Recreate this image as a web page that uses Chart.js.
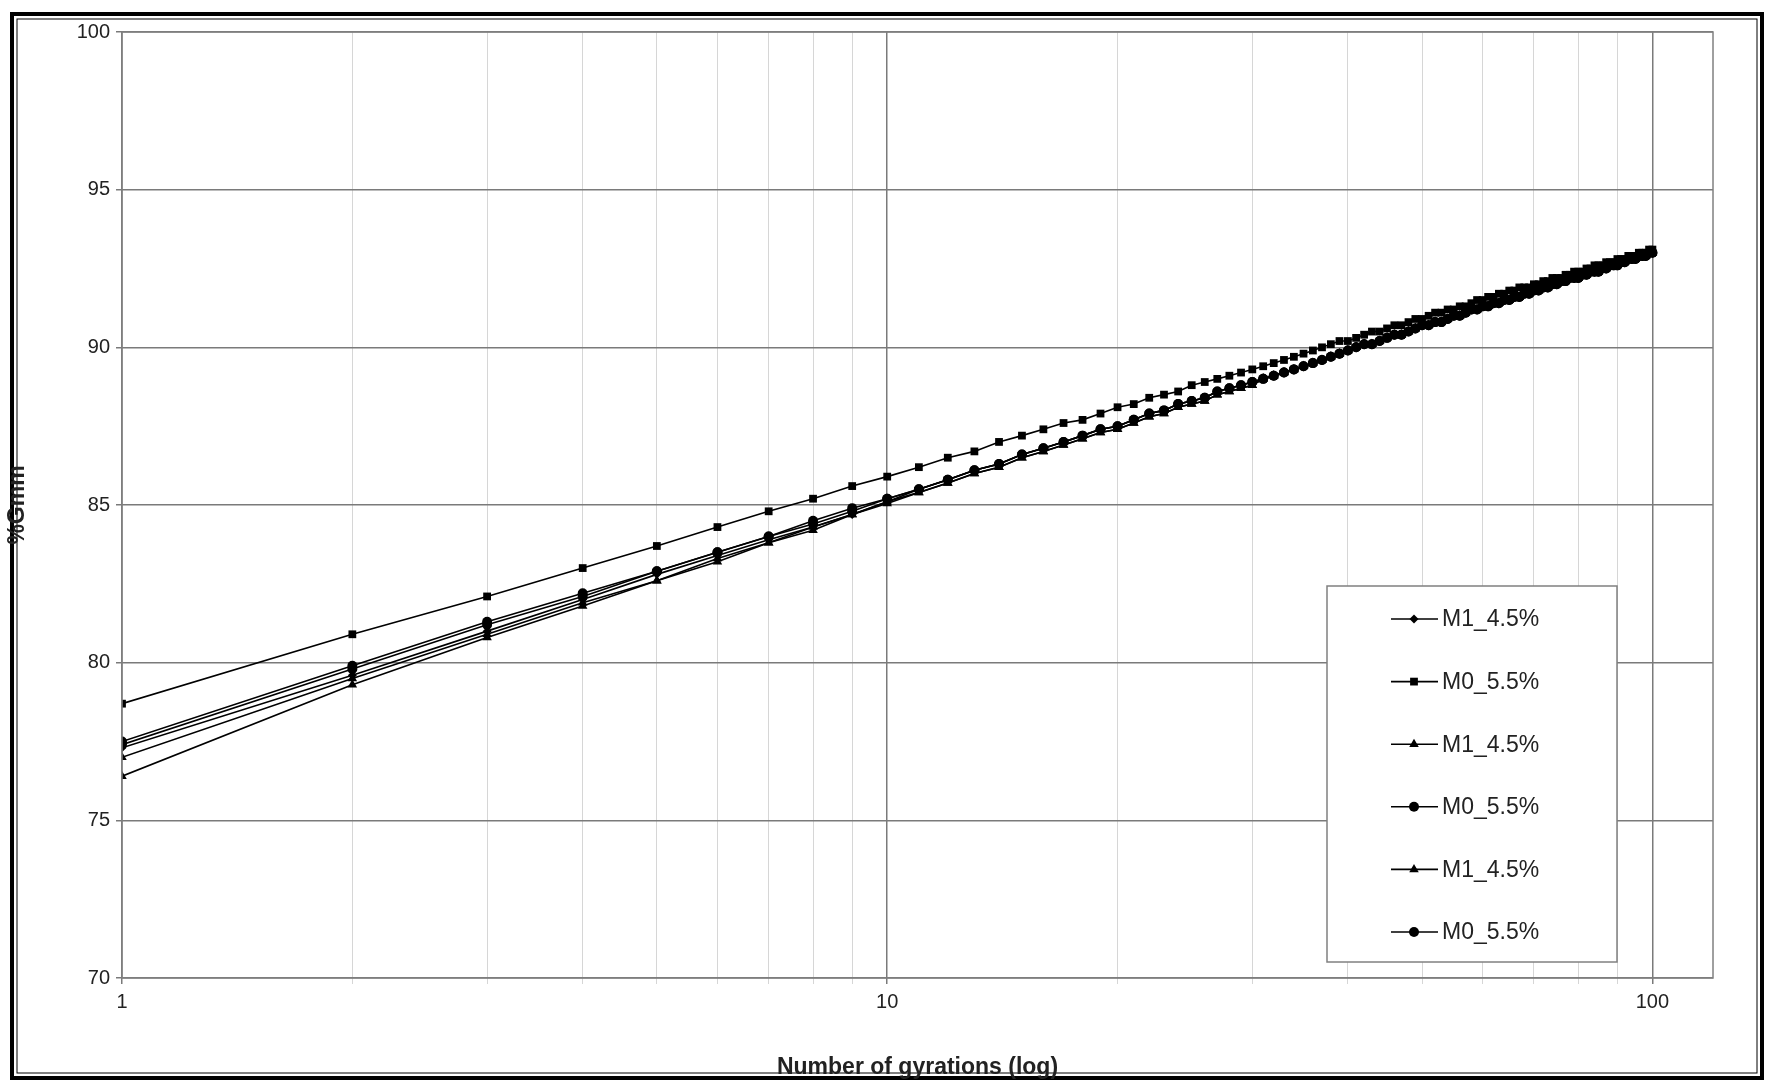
<!DOCTYPE html>
<html>
<head>
<meta charset="utf-8">
<script src="https://cdn.jsdelivr.net/npm/chart.js@4.4.0/dist/chart.umd.min.js"></script>
<style>
  html, body { margin: 0; padding: 0; background: #fff; }
  #wrap { width: 1771px; height: 1085px; position: relative; }
</style>
</head>
<body>
<div id="wrap"><canvas id="c" width="1771" height="1085"></canvas></div>
<script>
// gyrations 1..100
const gyrations = [
  1,2,3,4,5,6,7,8,9,10,11,12,13,14,15,16,17,18,19,20,
  21,22,23,24,25,26,27,28,29,30,31,32,33,34,35,36,37,38,39,40,
  41,42,43,44,45,46,47,48,49,50,51,52,53,54,55,56,57,58,59,60,
  61,62,63,64,65,66,67,68,69,70,71,72,73,74,75,76,77,78,79,80,
  81,82,83,84,85,86,87,88,89,90,91,92,93,94,95,96,97,98,99,100
];

const m1Diamond = [
  77.3,79.6,81.0,82.0,82.8,83.4,83.9,84.3,84.7,85.1,85.5,85.8,86.1,86.3,86.6,86.8,87.0,87.2,87.4,87.5,
  87.7,87.9,88.0,88.2,88.3,88.4,88.6,88.7,88.8,88.9,89.0,89.1,89.2,89.3,89.4,89.5,89.6,89.7,89.8,89.9,
  90.0,90.1,90.1,90.2,90.3,90.4,90.4,90.5,90.6,90.7,90.7,90.8,90.8,90.9,91.0,91.0,91.1,91.2,91.2,91.3,
  91.3,91.4,91.4,91.5,91.5,91.6,91.6,91.7,91.7,91.8,91.8,91.9,91.9,92.0,92.0,92.1,92.1,92.2,92.2,92.2,
  92.3,92.3,92.4,92.4,92.4,92.5,92.5,92.6,92.6,92.6,92.7,92.7,92.8,92.8,92.8,92.9,92.9,92.9,93.0,93.0
];
const m0Square = [
  78.7,80.9,82.1,83.0,83.7,84.3,84.8,85.2,85.6,85.9,86.2,86.5,86.7,87.0,87.2,87.4,87.6,87.7,87.9,88.1,
  88.2,88.4,88.5,88.6,88.8,88.9,89.0,89.1,89.2,89.3,89.4,89.5,89.6,89.7,89.8,89.9,90.0,90.1,90.2,90.2,
  90.3,90.4,90.5,90.5,90.6,90.7,90.7,90.8,90.9,90.9,91.0,91.1,91.1,91.2,91.2,91.3,91.3,91.4,91.5,91.5,
  91.6,91.6,91.7,91.7,91.8,91.8,91.9,91.9,91.9,92.0,92.0,92.1,92.1,92.2,92.2,92.2,92.3,92.3,92.4,92.4,
  92.4,92.5,92.5,92.6,92.6,92.6,92.7,92.7,92.7,92.8,92.8,92.8,92.9,92.9,92.9,93.0,93.0,93.0,93.1,93.1
];
const m1TriangleA = [
  77.0,79.5,80.9,81.9,82.6,83.3,83.8,84.3,84.7,85.1,85.4,85.7,86.0,86.2,86.5,86.7,86.9,87.1,87.3,87.4,
  87.6,87.8,87.9,88.1,88.2,88.3,88.5,88.6,88.7,88.8,89.0,89.1,89.2,89.3,89.4,89.5,89.6,89.7,89.8,89.9,
  90.0,90.1,90.1,90.2,90.3,90.4,90.4,90.5,90.6,90.7,90.7,90.8,90.8,90.9,91.0,91.0,91.1,91.2,91.2,91.3,
  91.3,91.4,91.4,91.5,91.5,91.6,91.6,91.7,91.7,91.8,91.8,91.9,91.9,92.0,92.0,92.1,92.1,92.2,92.2,92.2,
  92.3,92.3,92.4,92.4,92.4,92.5,92.5,92.6,92.6,92.6,92.7,92.7,92.8,92.8,92.8,92.9,92.9,92.9,93.0,93.0
];
const m0CircleA = [
  77.4,79.8,81.2,82.1,82.9,83.5,84.0,84.4,84.8,85.2,85.5,85.8,86.1,86.3,86.6,86.8,87.0,87.2,87.4,87.5,
  87.7,87.9,88.0,88.2,88.3,88.4,88.6,88.7,88.8,88.9,89.0,89.1,89.2,89.3,89.4,89.5,89.6,89.7,89.8,89.9,
  90.0,90.1,90.1,90.2,90.3,90.4,90.4,90.5,90.6,90.7,90.7,90.8,90.8,90.9,91.0,91.0,91.1,91.2,91.2,91.3,
  91.3,91.4,91.4,91.5,91.5,91.6,91.6,91.7,91.7,91.8,91.8,91.9,91.9,92.0,92.0,92.1,92.1,92.2,92.2,92.2,
  92.3,92.3,92.4,92.4,92.4,92.5,92.5,92.6,92.6,92.6,92.7,92.7,92.8,92.8,92.8,92.9,92.9,92.9,93.0,93.0
];
const m1TriangleB = [
  76.4,79.3,80.8,81.8,82.6,83.2,83.8,84.2,84.7,85.05,85.4,85.7,86.0,86.2,86.5,86.7,86.9,87.1,87.3,87.4,
  87.6,87.8,87.9,88.1,88.2,88.3,88.5,88.6,88.7,88.8,89.0,89.1,89.2,89.3,89.4,89.5,89.6,89.7,89.8,89.9,
  90.0,90.1,90.1,90.2,90.3,90.4,90.4,90.5,90.6,90.7,90.7,90.8,90.8,90.9,91.0,91.0,91.1,91.2,91.2,91.3,
  91.3,91.4,91.4,91.5,91.5,91.6,91.6,91.7,91.7,91.8,91.8,91.9,91.9,92.0,92.0,92.1,92.1,92.2,92.2,92.2,
  92.3,92.3,92.4,92.4,92.4,92.5,92.5,92.6,92.6,92.6,92.7,92.7,92.8,92.8,92.8,92.9,92.9,92.9,93.0,93.0
];
const m0CircleB = [
  77.5,79.9,81.3,82.2,82.9,83.5,84.0,84.5,84.9,85.2,85.5,85.8,86.1,86.3,86.6,86.8,87.0,87.2,87.4,87.5,
  87.7,87.9,88.0,88.2,88.3,88.4,88.6,88.7,88.8,88.9,89.0,89.1,89.2,89.3,89.4,89.5,89.6,89.7,89.8,89.9,
  90.0,90.1,90.1,90.2,90.3,90.4,90.4,90.5,90.6,90.7,90.7,90.8,90.8,90.9,91.0,91.0,91.1,91.2,91.2,91.3,
  91.3,91.4,91.4,91.5,91.5,91.6,91.6,91.7,91.7,91.8,91.8,91.9,91.9,92.0,92.0,92.1,92.1,92.2,92.2,92.2,
  92.3,92.3,92.4,92.4,92.4,92.5,92.5,92.6,92.6,92.6,92.7,92.7,92.8,92.8,92.8,92.9,92.9,92.9,93.0,93.0
];

const seriesNames = ['M1_4.5%', 'M0_5.5%', 'M1_4.5%', 'M0_5.5%', 'M1_4.5%', 'M0_5.5%'];
const seriesValues = [m1Diamond, m0Square, m1TriangleA, m0CircleA, m1TriangleB, m0CircleB];
const markers = [
  { style: 'rectRot', r: 4.5 },
  { style: 'rect', r: 5.5 },
  { style: 'triangle', r: 5.5 },
  { style: 'circle', r: 5 },
  { style: 'triangle', r: 5.5 },
  { style: 'circle', r: 5 }
];
const yTicks = [70, 75, 80, 85, 90, 95, 100];
const xLabels = [1, 10, 100];

const FONT = '"Liberation Sans", Arial, sans-serif';
const isMajor = v => xLabels.includes(v);

const datasets = seriesValues.map((vals, i) => ({
  label: seriesNames[i],
  data: vals.map((y, k) => ({ x: gyrations[k], y })),
  borderColor: '#000',
  backgroundColor: '#000',
  borderWidth: 1.6,
  pointStyle: markers[i].style,
  pointRadius: markers[i].r,
  pointBorderWidth: 0,
  tension: 0
}));

// white page and the black double frame
const framePlugin = {
  id: 'frame',
  beforeDraw(chart) {
    const ctx = chart.ctx;
    ctx.save();
    ctx.fillStyle = '#fff';
    ctx.fillRect(0, 0, chart.width, chart.height);
    ctx.strokeStyle = '#000';
    ctx.lineWidth = 4;
    ctx.strokeRect(12, 14, 1750, 1064);
    ctx.lineWidth = 1;
    ctx.strokeRect(17, 19, 1740, 1054);
    ctx.restore();
  },
  afterDatasetsDraw(chart) {
    const { ctx, chartArea: a } = chart;
    ctx.save();
    ctx.strokeStyle = '#808080';
    ctx.lineWidth = 1.5;
    ctx.strokeRect(a.left, a.top, a.right - a.left, a.bottom - a.top);
    ctx.restore();
  }
};

// boxed legend drawn inside the plot
const boxLegend = {
  id: 'boxLegend',
  afterDraw(chart) {
    const ctx = chart.ctx;
    const bx = 1327, by = 586, bw = 290, bh = 376;
    ctx.save();
    ctx.fillStyle = '#fff';
    ctx.fillRect(bx, by, bw, bh);
    ctx.strokeStyle = '#808080';
    ctx.lineWidth = 1.5;
    ctx.strokeRect(bx, by, bw, bh);
    ctx.font = '23px ' + FONT;
    ctx.textBaseline = 'middle';
    chart.data.datasets.forEach((ds, i) => {
      const y = 619 + i * 62.6;
      ctx.strokeStyle = '#000';
      ctx.lineWidth = 1.6;
      ctx.beginPath();
      ctx.moveTo(1391, y);
      ctx.lineTo(1438, y);
      ctx.stroke();
      ctx.fillStyle = '#000';
      Chart.helpers.drawPoint(ctx, { pointStyle: ds.pointStyle, radius: ds.pointRadius, borderWidth: 0 }, 1414, y);
      ctx.fillStyle = '#222';
      ctx.fillText(ds.label, 1442, y + 1);
    });
    ctx.restore();
  }
};

new Chart(document.getElementById('c'), {
  type: 'line',
  data: { datasets },
  plugins: [framePlugin, boxLegend],
  options: {
    responsive: false,
    animation: false,
    layout: { padding: { left: 0, top: 32, right: 58, bottom: 0 } },
    plugins: { legend: { display: false }, tooltip: { enabled: false } },
    scales: {
      x: {
        type: 'logarithmic',
        min: 1,
        max: 120,
        afterFit: s => { s.height = 107; },
        afterBuildTicks: s => {
          const t = [];
          for (let d = 1; d <= 100; d *= 10) {
            for (let k = 1; k <= 9; k++) if (d * k <= 120) t.push({ value: d * k });
          }
          s.ticks = t;
        },
        ticks: {
          autoSkip: false,
          maxRotation: 0,
          color: '#222',
          font: { family: FONT, size: 20 },
          padding: 6,
          callback: v => (isMajor(v) ? String(v) : '')
        },
        grid: {
          color: c => (isMajor(c.tick.value) ? '#7a7a7a' : '#d6d6d6'),
          lineWidth: c => (isMajor(c.tick.value) ? 1.5 : 1),
          tickLength: 6,
          drawTicks: true
        },
        border: { display: false },
        title: {
          display: true,
          text: 'Number of gyrations (log)',
          color: '#222',
          font: { family: FONT, size: 23, weight: 'bold' },
          padding: { top: 12 }
        }
      },
      y: {
        min: 70,
        max: 100,
        afterFit: s => { s.width = 122; },
        afterBuildTicks: s => { s.ticks = yTicks.map(v => ({ value: v })); },
        ticks: {
          color: '#222',
          font: { family: FONT, size: 20 },
          padding: 6
        },
        grid: { color: '#7a7a7a', lineWidth: 1.5, tickLength: 6 },
        border: { display: false },
        title: {
          display: true,
          text: '%Gmm',
          color: '#222',
          font: { family: FONT, size: 23, weight: 'bold' },
          padding: { bottom: 10 }
        }
      }
    }
  }
});
</script>
</body>
</html>
